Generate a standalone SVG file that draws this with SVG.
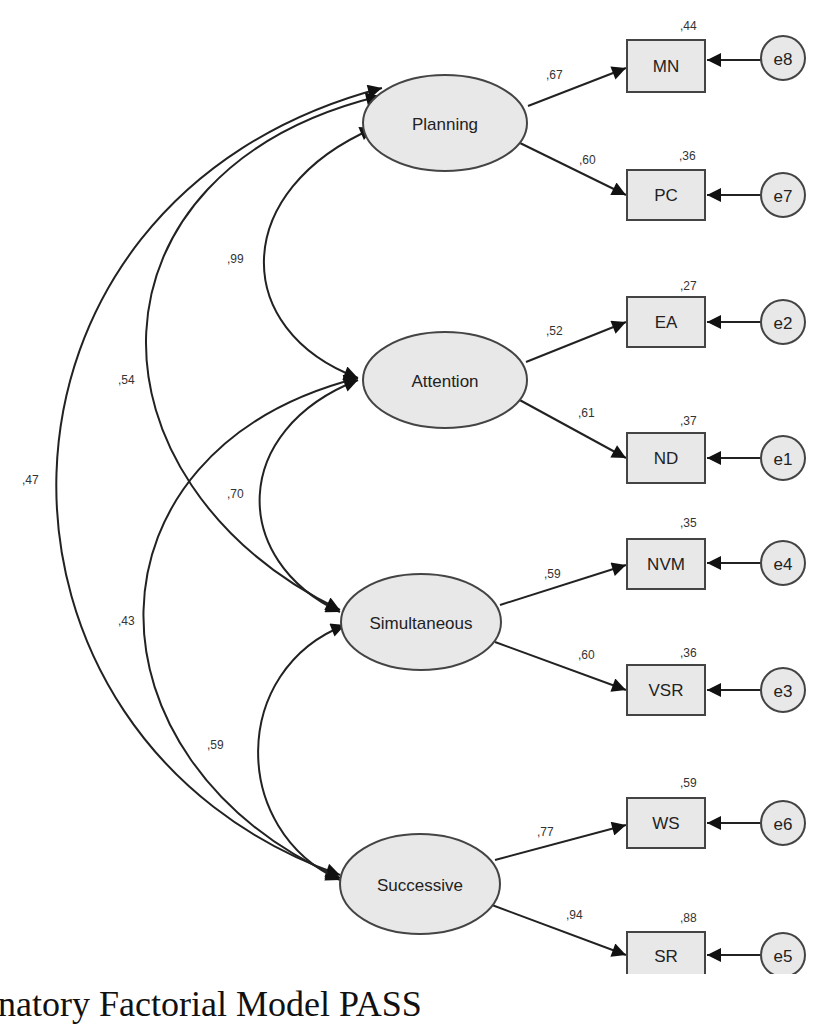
<svg xmlns="http://www.w3.org/2000/svg" width="832" height="1024" viewBox="0 0 832 1024">
<defs>
<marker id="b" viewBox="0 0 10 10" refX="10" refY="5" markerWidth="22" markerHeight="14" orient="auto-start-reverse" markerUnits="userSpaceOnUse"><path d="M0,0L10,5L0,10z" fill="#111"/></marker>
<style>
.lv{fill:#e8e8e8;stroke:#444;stroke-width:2}
.ob{fill:#e8e8e8;stroke:#444;stroke-width:2}
.t{font-family:"Liberation Sans",Arial,sans-serif;font-size:17px;text-anchor:middle;dominant-baseline:central;fill:#222}
.n{font-family:"Liberation Sans",Arial,sans-serif;font-size:12px;fill:#333}
.c{fill:none;stroke:#222;stroke-width:2;marker-start:url(#b);marker-end:url(#b)}
.p{fill:none;stroke:#222;stroke-width:2;marker-end:url(#b)}
</style>
</defs>
<rect width="832" height="1024" fill="#fff"/>
<g id="connectors">
<path class="p" d="M528,106L626,68"/>
<path class="p" d="M520,143L626,195"/>
<path class="p" d="M526,362L626,322"/>
<path class="p" d="M516,398L626,458"/>
<path class="p" d="M500,605L626,565"/>
<path class="p" d="M495,642L626,690"/>
<path class="p" d="M495,860L626,825"/>
<path class="p" d="M492,905L626,955"/>
<path class="p" d="M761,60L707,60"/>
<path class="p" d="M761,195L707,195"/>
<path class="p" d="M761,322L707,322"/>
<path class="p" d="M761,458L707,458"/>
<path class="p" d="M761,563L707,563"/>
<path class="p" d="M761,690L707,690"/>
<path class="p" d="M761,823L707,823"/>
<path class="p" d="M761,955L707,955"/>
<path class="c" d="M374,128C230,190 230,330 358,378"/>
<path class="c" d="M380,96C75,170 75,480 340,610"/>
<path class="c" d="M382,88C-45,200 -45,740 340,875"/>
<path class="c" d="M358,380C230,430 230,560 340,612"/>
<path class="c" d="M358,378C75,450 75,760 340,878"/>
<path class="c" d="M345,625C230,670 230,830 340,880"/>
</g>
<g id="Planning"><ellipse class="lv" cx="445" cy="123" rx="82" ry="48"/><text class="t" x="445" y="124">Planning</text></g>
<g id="Attention"><ellipse class="lv" cx="445" cy="380" rx="82" ry="48"/><text class="t" x="445" y="381">Attention</text></g>
<g id="Simultaneous"><ellipse class="lv" cx="421" cy="622" rx="80" ry="48"/><text class="t" x="421" y="623">Simultaneous</text></g>
<g id="Successive"><ellipse class="lv" cx="420" cy="884" rx="80" ry="50"/><text class="t" x="420" y="885">Successive</text></g>
<g id="MN"><rect class="ob" x="627" y="40" width="78" height="52"/><text class="t" x="666" y="66">MN</text></g>
<g id="PC"><rect class="ob" x="627" y="170" width="78" height="50"/><text class="t" x="666" y="195">PC</text></g>
<g id="EA"><rect class="ob" x="627" y="297" width="78" height="50"/><text class="t" x="666" y="322">EA</text></g>
<g id="ND"><rect class="ob" x="627" y="433" width="78" height="50"/><text class="t" x="666" y="458">ND</text></g>
<g id="NVM"><rect class="ob" x="627" y="539" width="78" height="50"/><text class="t" x="666" y="564">NVM</text></g>
<g id="VSR"><rect class="ob" x="627" y="665" width="78" height="50"/><text class="t" x="666" y="690">VSR</text></g>
<g id="WS"><rect class="ob" x="627" y="798" width="78" height="50"/><text class="t" x="666" y="823">WS</text></g>
<g id="SR"><rect class="ob" x="627" y="932" width="78" height="50"/><text class="t" x="666" y="956">SR</text></g>
<g id="e8"><circle class="ob" cx="783" cy="58" r="22"/><text class="t" x="783" y="59">e8</text></g>
<g id="e7"><circle class="ob" cx="783" cy="195" r="22"/><text class="t" x="783" y="196">e7</text></g>
<g id="e2"><circle class="ob" cx="783" cy="322" r="22"/><text class="t" x="783" y="323">e2</text></g>
<g id="e1"><circle class="ob" cx="783" cy="458" r="22"/><text class="t" x="783" y="459">e1</text></g>
<g id="e4"><circle class="ob" cx="783" cy="563" r="22"/><text class="t" x="783" y="564">e4</text></g>
<g id="e3"><circle class="ob" cx="783" cy="690" r="22"/><text class="t" x="783" y="691">e3</text></g>
<g id="e6"><circle class="ob" cx="783" cy="823" r="22"/><text class="t" x="783" y="824">e6</text></g>
<g id="e5"><circle class="ob" cx="783" cy="955" r="22"/><text class="t" x="783" y="956">e5</text></g>
<g id="labels">
<text class="n" x="680" y="30">,44</text><text class="n" x="546" y="79">,67</text>
<text class="n" x="679" y="160">,36</text><text class="n" x="579" y="164">,60</text>
<text class="n" x="680" y="290">,27</text><text class="n" x="546" y="335">,52</text>
<text class="n" x="680" y="425">,37</text><text class="n" x="578" y="417">,61</text>
<text class="n" x="680" y="527">,35</text><text class="n" x="544" y="578">,59</text>
<text class="n" x="680" y="657">,36</text><text class="n" x="578" y="659">,60</text>
<text class="n" x="680" y="787">,59</text><text class="n" x="537" y="836">,77</text>
<text class="n" x="680" y="922">,88</text><text class="n" x="566" y="919">,94</text>
<text class="n" x="227" y="263">,99</text><text class="n" x="118" y="384">,54</text>
<text class="n" x="22" y="484">,47</text><text class="n" x="227" y="498">,70</text>
<text class="n" x="118" y="625">,43</text><text class="n" x="207" y="749">,59</text>
</g>
<rect x="0" y="974" width="832" height="50" fill="#fff"/>
<text x="-2" y="1016" font-family="'Liberation Serif','Times New Roman',serif" font-size="36" fill="#111">natory Factorial Model PASS</text>
</svg>
